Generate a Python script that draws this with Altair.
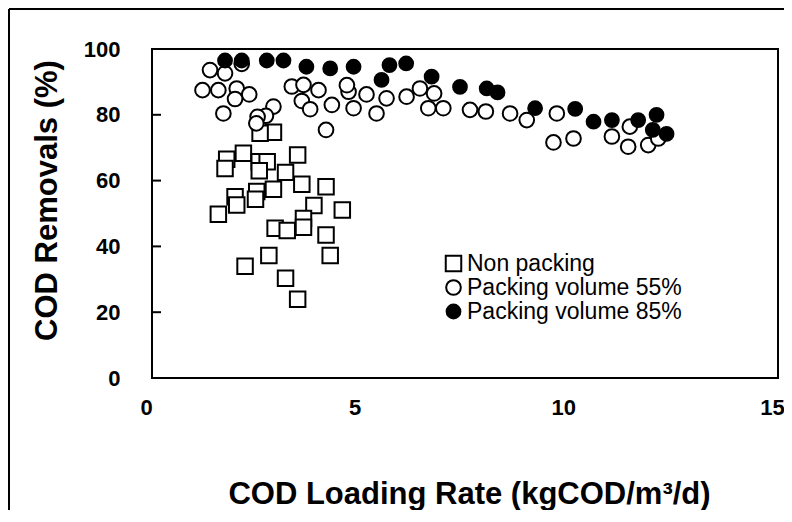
import altair as alt
import pandas as pd

series_names = ["Non packing", "Packing volume 55%", "Packing volume 85%"]

# Non packing (squares)
non_x = [2.19, 1.79, 1.75, 2.57, 2.76, 2.57, 3.49, 3.20, 3.59, 2.91, 4.17, 1.99, 2.51, 2.03, 2.48,
         1.59, 3.88, 4.56, 3.63, 2.95, 3.24, 3.63, 4.17, 2.80, 4.27, 2.23, 3.20, 3.49, 2.91, 2.59]
non_y = [68.3, 66.5, 63.7, 65.7, 65.7, 63.0, 67.8, 62.5, 58.9, 57.4, 58.1, 55.1, 56.7, 52.6, 54.3,
         49.8, 52.4, 51.1, 48.5, 45.5, 44.8, 45.8, 43.5, 37.2, 37.2, 34.0, 30.3, 23.9, 74.7, 74.4]

# Packing volume 55% (open circles)
p55_x = [1.39, 1.75, 1.21, 1.59, 2.03, 2.33, 1.99, 1.71, 2.91, 2.73, 2.53, 2.50, 3.35, 3.63, 3.99,
         3.59, 3.79, 4.31, 4.71, 4.83, 4.17, 4.67, 5.14, 5.38, 5.62, 6.10, 6.42, 6.62, 6.76, 6.98,
         7.62, 8.00, 8.58, 8.98, 9.70, 9.62, 10.10, 11.02, 11.45, 11.41, 11.89, 12.13, 2.15]
p55_y = [93.6, 92.6, 87.5, 87.5, 88.0, 86.2, 84.8, 80.4, 82.5, 79.7, 79.4, 77.4, 88.6, 89.1, 87.5,
         84.2, 81.7, 83.0, 87.0, 82.0, 75.4, 89.0, 86.2, 80.4, 85.0, 85.5, 88.0, 82.0, 86.5, 82.0,
         81.5, 81.0, 80.4, 78.4, 80.4, 71.6, 72.8, 73.4, 76.4, 70.3, 70.8, 72.8, 95.5]

# Packing volume 85% (filled circles)
p85_x = [1.75, 2.15, 2.75, 3.15, 3.70, 4.27, 4.83, 5.50, 5.69, 6.09, 6.70, 7.38, 8.02, 8.28,
         9.18, 10.14, 10.58, 11.02, 11.65, 12.09, 12.00, 12.33]
p85_y = [96.5, 96.5, 96.5, 96.5, 94.6, 94.1, 94.6, 90.6, 95.1, 95.6, 91.6, 88.5, 88.0, 86.8,
         82.0, 81.8, 77.9, 78.4, 78.4, 80.0, 75.4, 74.2]

x_ticks = [0, 5, 10, 15]
y_ticks = [0, 20, 40, 60, 80, 100]
inner_y_ticks = [20, 40, 60, 80]

rows = []
for xs, ys, name in [(non_x, non_y, series_names[0]), (p55_x, p55_y, series_names[1]),
                     (p85_x, p85_y, series_names[2])]:
    for xv, yv in zip(xs, ys):
        rows.append({"x": xv, "y": yv, "series": name})
df = pd.DataFrame(rows)

FONT = "Liberation Sans"

legend = alt.Legend(title=None, orient="none", legendX=290, legendY=203, padding=0,
                    labelFont=FONT, labelFontSize=23, labelColor="black", labelOffset=2,
                    labelLimit=500, rowPadding=0, symbolStrokeWidth=2, symbolType="circle")

points = alt.Chart(df).mark_point(strokeWidth=2, opacity=1, fillOpacity=1).encode(
    x=alt.X("x:Q", scale=alt.Scale(domain=[0, 15], nice=False, zero=False),
            axis=alt.Axis(values=x_ticks, title="COD Loading Rate (kgCOD/m³/d)", labelPadding=19,
                          labelOffset=-6, labelFlush=False, titleX=317, titleY=116,
                          titleBaseline="middle", titleAnchor="middle", titleAlign="center")),
    y=alt.Y("y:Q", scale=alt.Scale(domain=[0, 100], nice=False),
            axis=alt.Axis(values=y_ticks, title="COD Removals (%)", labelPadding=32,
                          titleX=-105, titleY=151, titleAngle=270, titleBaseline="middle",
                          titleAlign="center")),
    shape=alt.Shape("series:N", scale=alt.Scale(domain=series_names, range=["square", "circle", "circle"]),
                    legend=legend),
    fill=alt.Fill("series:N", scale=alt.Scale(domain=series_names, range=["white", "white", "black"]),
                  legend=legend),
    stroke=alt.Stroke("series:N", scale=alt.Scale(domain=series_names, range=["black", "black", "black"]),
                      legend=legend),
    size=alt.Size("series:N", scale=alt.Scale(domain=series_names, range=[240, 190, 215]),
                  legend=legend),
)

tick_df = pd.DataFrame({"t": inner_y_ticks})
yticks = alt.Chart(tick_df).mark_rule(color="black", strokeWidth=2).encode(
    y=alt.Y("t:Q"), x=alt.value(0), x2=alt.value(9)
)

frame_df = pd.DataFrame({"k": [0]})
frame_top = alt.Chart(frame_df).mark_rule(color="black", strokeWidth=2).encode(
    x=alt.value(-143), x2=alt.value(634), y=alt.value(-40)
)
frame_left = alt.Chart(frame_df).mark_rule(color="black", strokeWidth=2).encode(
    x=alt.value(-143), y=alt.value(-40), y2=alt.value(500)
)

chart = alt.layer(points, yticks, frame_top, frame_left).properties(
    width=626, height=329,
    autosize=alt.AutoSizeParams(type="none"),
    padding={"left": 144, "top": 41, "right": 6, "bottom": 132},
).configure_view(
    stroke="black", strokeWidth=2
).configure_axis(
    labelFont=FONT, labelFontSize=22, labelFontWeight="bold", labelColor="black",
    titleFont=FONT, titleFontSize=31, titleFontWeight="bold", titleColor="black",
    domain=False, ticks=False, grid=False
)

chart.save("out.html", embed_options={"renderer": "svg", "actions": False})
